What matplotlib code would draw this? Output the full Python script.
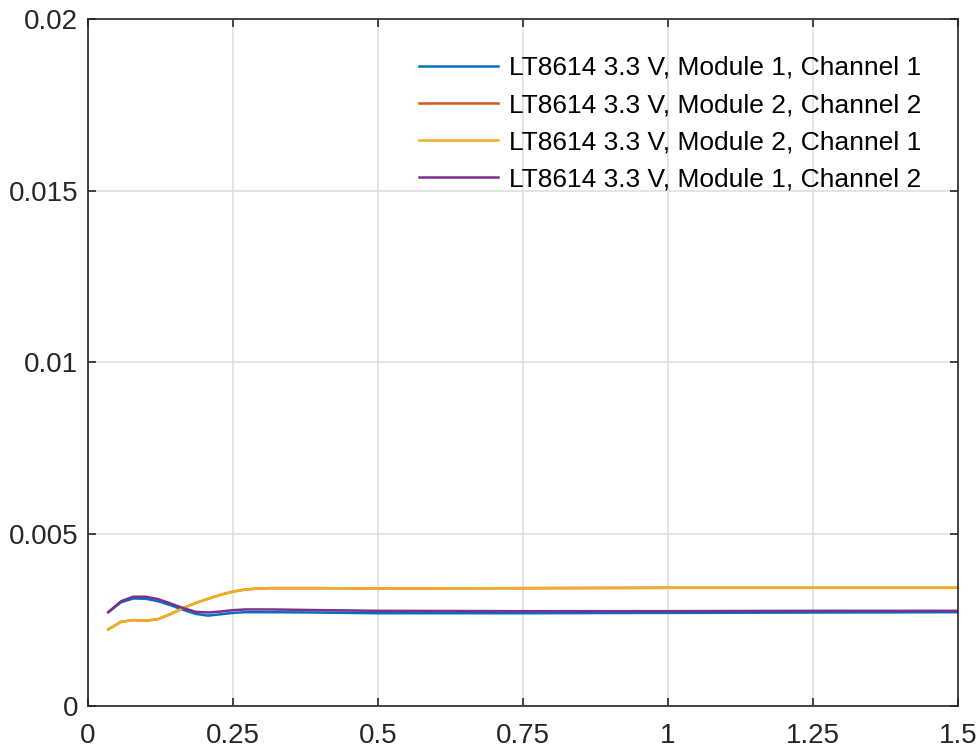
import matplotlib
matplotlib.use("Agg")
import matplotlib.pyplot as plt

plt.rcParams['font.family'] = ['Liberation Sans', 'DejaVu Sans']

labels = ["LT8614 3.3 V, Module 1, Channel 1",
          "LT8614 3.3 V, Module 2, Channel 2",
          "LT8614 3.3 V, Module 2, Channel 1",
          "LT8614 3.3 V, Module 1, Channel 2"]
colors = ["#0072BD", "#D95319", "#EDB120", "#7E2F8E"]

x = [0.035, 0.057, 0.078, 0.100, 0.121, 0.143, 0.164, 0.186, 0.207, 0.229, 0.250,
     0.271, 0.293, 0.314, 0.40, 0.50, 0.75, 1.00, 1.25, 1.50]

m1c1 = [0.00273, 0.00302, 0.00313, 0.00312, 0.00305, 0.00293, 0.00280, 0.00268, 0.00263,
        0.00267, 0.00271, 0.00273, 0.00273, 0.00273, 0.00272, 0.00270, 0.00270, 0.00271,
        0.00272, 0.00273]
m2c1 = [0.00223, 0.00245, 0.00250, 0.00248, 0.00253, 0.00268, 0.00285, 0.00300, 0.00312,
        0.00324, 0.00333, 0.00339, 0.00342, 0.00343, 0.00343, 0.00342, 0.00343, 0.00344,
        0.00344, 0.00344]
m2c2 = list(m2c1)
m1c2 = [0.00273, 0.00305, 0.00318, 0.00318, 0.00311, 0.00298, 0.00285, 0.00274, 0.00272,
        0.00275, 0.00279, 0.00281, 0.00281, 0.00281, 0.00279, 0.00277, 0.00276, 0.00276,
        0.00277, 0.00277]

series = [m1c1, m2c2, m2c1, m1c2]

fig = plt.figure(figsize=(9.8, 7.54), dpi=100)
ax = fig.add_axes([0.0898, 0.0637, 0.8878, 0.9111])
for y, c, l in zip(series, colors, labels):
    ax.plot(x, y, color=c, lw=1.8, label=l)

ax.set_xlim(0, 1.5)
ax.set_ylim(0, 0.02)
ax.set_xticks([0, 0.25, 0.5, 0.75, 1, 1.25, 1.5])
ax.set_xticklabels(["0", "0.25", "0.5", "0.75", "1", "1.25", "1.5"])
ax.set_yticks([0, 0.005, 0.01, 0.015, 0.02])
ax.set_yticklabels(["0", "0.005", "0.01", "0.015", "0.02"])
ax.grid(True, color="#DFDFDF", lw=1.2)
ax.set_axisbelow(True)
ax.tick_params(direction="in", top=True, right=True, length=6, width=1.2,
               labelsize=20, colors="#262626")
ax.tick_params(axis="y", pad=7)
ax.tick_params(axis="x", pad=12)
for s in ax.spines.values():
    s.set_color("#262626")
    s.set_linewidth(1.2)

leg = ax.legend(loc="upper right", frameon=False, fontsize=19, handlelength=3.0,
                handletextpad=0.4, labelspacing=0.5, borderaxespad=1.0,
                bbox_to_anchor=(1.0, 1.0))
for t in leg.get_texts():
    t.set_color("black")

fig.savefig("out.png", dpi=100)
